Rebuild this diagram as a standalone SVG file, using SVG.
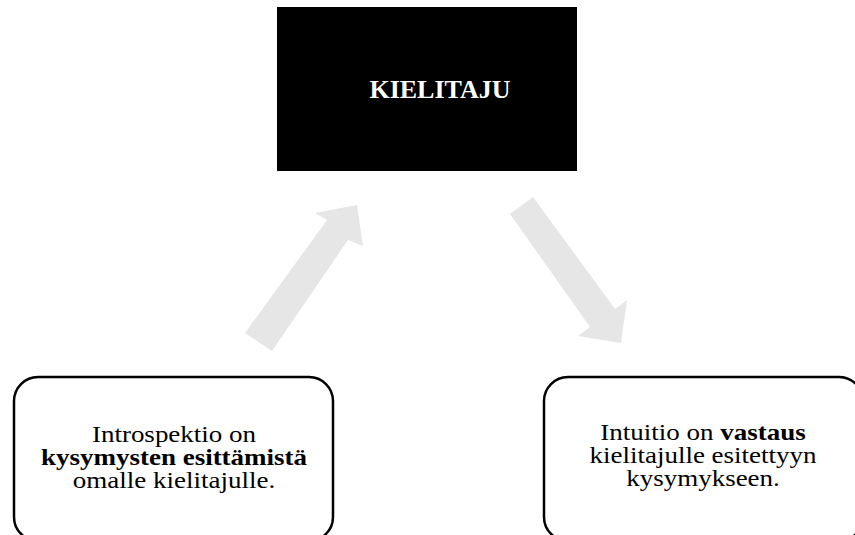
<svg xmlns="http://www.w3.org/2000/svg" width="855" height="535" viewBox="0 0 855 535">
  <style>
    .box { fill: #ffffff; stroke: #000000; stroke-width: 2.5; }
    .arrow { fill: #e6e6e6; stroke: none; }
    .txt { font-family: "Liberation Serif", "Times New Roman", serif; font-size: 22.5px; fill: #000000; text-anchor: middle; }
    .b { font-weight: bold; }
    .title { font-family: "Liberation Serif", "Times New Roman", serif; font-size: 26px; font-weight: bold; fill: #ffffff; text-anchor: middle; }
  </style>
  <rect width="855" height="535" fill="#ffffff"/>

  <g id="connectors">
    <!-- upward arrow from the left box to the top box -->
    <polygon class="arrow" points="245,333 327,220 315,213 357,205 363,246 348,240 272,351"/>
    <!-- downward arrow from the top box to the right box -->
    <polygon class="arrow" points="533,197 615,309 627,300 621,343 578,336 590,327 510,214"/>
  </g>

  <g id="kielitaju">
    <rect x="277" y="7" width="300" height="164" fill="#000000"/>
    <text class="title" x="440" y="98">KIELITAJU</text>
  </g>

  <g id="introspektio">
    <rect class="box" x="14" y="377" width="319" height="164" rx="24" ry="24"/>
    <!-- body text is set slightly wide -->
    <g transform="translate(174 0) scale(1.2 1)">
      <text class="txt" x="0" y="442">Introspektio on</text>
      <text class="txt b" x="0" y="465">kysymysten esittämistä</text>
      <text class="txt" x="0" y="488">omalle kielitajulle.</text>
    </g>
  </g>

  <g id="intuitio">
    <rect class="box" x="544" y="377" width="319" height="164" rx="24" ry="24"/>
    <g transform="translate(703 0) scale(1.2 1)">
      <text class="txt" x="0" y="440">Intuitio on <tspan class="b">vastaus</tspan></text>
      <text class="txt" x="0" y="463">kielitajulle esitettyyn</text>
      <text class="txt" x="0" y="486">kysymykseen.</text>
    </g>
  </g>
</svg>
